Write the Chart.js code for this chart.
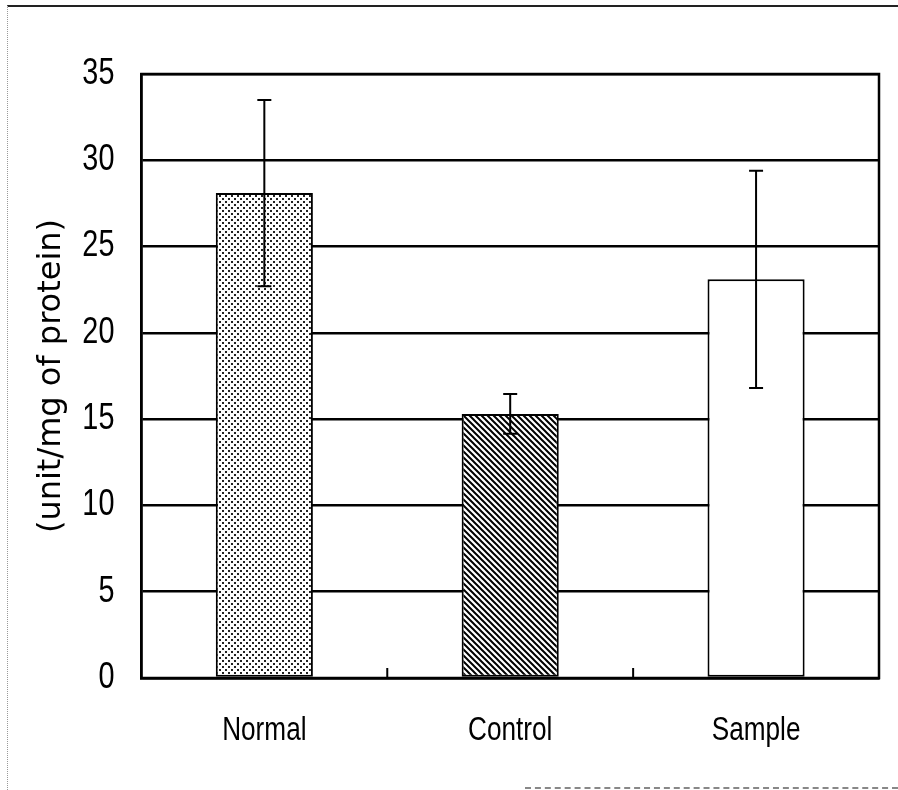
<!DOCTYPE html>
<html>
<head>
<meta charset="utf-8">
<script src="https://cdn.jsdelivr.net/npm/chart.js@4.4.1/dist/chart.umd.min.js"></script>
<style>
html, body { margin: 0; padding: 0; background: #fff; }
#wrap { position: relative; width: 898px; height: 790px; }
#frame { position: absolute; left: 7px; top: 5px; right: 0; bottom: 0;
  border-top: 2px solid #222; border-left: 1px dotted #999; pointer-events: none; }
#foot { position: absolute; left: 525px; right: 0; bottom: 1px;
  border-bottom: 2px dashed #888; pointer-events: none; }
</style>
</head>
<body>
<div id="wrap">
<canvas id="barChart" width="898" height="790"></canvas>
<div id="frame"></div>
<div id="foot"></div>
</div>
<script>
/* DATA */
const groups = ['Normal', 'Control', 'Sample'];
const activity = [28.1, 15.3, 23.1];
const activitySD = [5.4, 1.15, 6.3];
const yTicks = [0, 5, 10, 15, 20, 25, 30, 35];

const labelFont = "'Liberation Sans', Arial, sans-serif";

/* FILL PATTERNS */
function dotPattern(){
  const c = document.createElement('canvas');
  c.width = 6; c.height = 6;
  const g = c.getContext('2d');
  g.fillStyle = '#fff';
  g.fillRect(0, 0, 6, 6);
  g.fillStyle = '#222';
  g.fillRect(0, 0, 2, 2);
  g.fillRect(3, 3, 2, 2);
  return g.createPattern(c, 'repeat');
}

function hatchPattern(){
  const c = document.createElement('canvas');
  c.width = 6; c.height = 6;
  const g = c.getContext('2d');
  g.fillStyle = '#fff';
  g.fillRect(0, 0, 6, 6);
  g.strokeStyle = '#000';
  g.lineWidth = 2;
  g.beginPath();
  g.moveTo(-1, -1); g.lineTo(7, 7);
  g.moveTo(-7, -1); g.lineTo(1, 7);
  g.moveTo(5, -1); g.lineTo(13, 7);
  g.stroke();
  return g.createPattern(c, 'repeat');
}

/* condensed text, like the narrow face of the original plot */
function narrowText(ctx, text, x, y, align, size, squeeze){
  ctx.save();
  ctx.translate(x, y);
  ctx.scale(squeeze, 1);
  ctx.font = size + 'px ' + labelFont;
  ctx.fillStyle = '#000';
  ctx.textAlign = align;
  ctx.textBaseline = 'middle';
  ctx.fillText(text, 0, 0);
  ctx.restore();
}

/* ERROR BARS, PLOT BOX, TICKS AND LABELS */
const decorations = {
  id: 'decorations',
  afterDatasetsDraw(chart){
    const ctx = chart.ctx;
    const x = chart.scales.x;
    const y = chart.scales.y;
    const a = chart.chartArea;
    const meta = chart.getDatasetMeta(0);
    ctx.save();
    ctx.strokeStyle = '#000';

    // error bars (mean +/- SD)
    ctx.lineWidth = 2;
    meta.data.forEach((bar, i) => {
      const top = y.getPixelForValue(activity[i] + activitySD[i]);
      const bottom = y.getPixelForValue(activity[i] - activitySD[i]);
      ctx.beginPath();
      ctx.moveTo(bar.x, top); ctx.lineTo(bar.x, bottom);
      ctx.moveTo(bar.x - 7, top); ctx.lineTo(bar.x + 7, top);
      ctx.moveTo(bar.x - 7, bottom); ctx.lineTo(bar.x + 7, bottom);
      ctx.stroke();
    });

    // box round the plot
    ctx.lineWidth = 2.5;
    ctx.strokeRect(a.left, a.top, a.right - a.left, a.bottom - a.top);

    // short inward ticks between categories
    ctx.lineWidth = 2;
    for (let i = 0; i < groups.length - 1; i++){
      const bx = (x.getPixelForValue(i) + x.getPixelForValue(i + 1)) / 2;
      ctx.beginPath();
      ctx.moveTo(bx, a.bottom); ctx.lineTo(bx, a.bottom - 10);
      ctx.stroke();
    }
    ctx.restore();

    yTicks.forEach(v => narrowText(ctx, String(v), a.left - 27, y.getPixelForValue(v), 'right', 36, 0.8));
    groups.forEach((g, i) => narrowText(ctx, g, x.getPixelForValue(i), a.bottom + 53, 'center', 34, 0.77));
  }
};

const barChart = new Chart(
document.getElementById('barChart'),
{
type: 'bar',

data: {
  labels: groups,
  datasets: [
    {
      data: activity,
      backgroundColor: [dotPattern(), hatchPattern(), '#fff'],
      borderColor: '#000',
      borderWidth: 2,
      borderSkipped: false,
      categoryPercentage: 1,
      barPercentage: 0.395
    }
  ]
},

options: {
  responsive: false,
  animation: false,
  layout: { padding: { left: 10, right: 19, top: 74, bottom: 104 } },
  plugins: {
    legend: { display: false },
    tooltip: { enabled: false }
  },
  scales: {
    x: {
      grid: { display: false },
      border: { color: '#000', width: 2.5 },
      ticks: { display: false }
    },
    y: {
      min: 0,
      max: 35,
      afterBuildTicks(axis){
        axis.ticks = yTicks.map(v => ({ value: v }));
      },
      grid: {
        color: '#000',
        lineWidth: 2.5,
        drawTicks: false
      },
      border: { color: '#000', width: 2.5 },
      ticks: { display: false },
      title: {
        display: true,
        text: '(unit/mg of protein)',
        color: '#000',
        padding: { top: 22, bottom: 71 },
        font: { family: "'DejaVu Sans', sans-serif", size: 32 }
      }
    }
  }
},

plugins: [decorations]
}
);
</script>
</body>
</html>
